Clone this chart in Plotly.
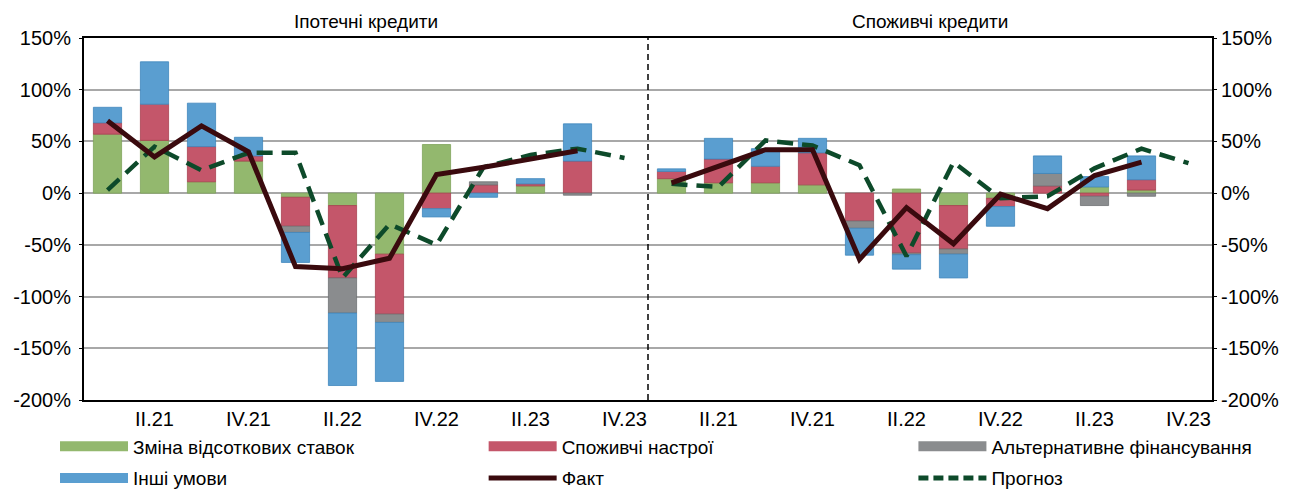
import plotly.graph_objects as go

# ---------------- data ----------------
quarters = ["I.21", "II.21", "III.21", "IV.21", "I.22", "II.22",
            "III.22", "IV.22", "I.23", "II.23", "III.23", "IV.23"]
panels = ["Іпотечні кредити", "Споживчі кредити"]

# Mortgage loans (Іпотечні кредити), %  (None = no bar segment)
mort_rates = [57, 51, 11, 31, -4, -12, -59, 47, None, 7, None, None]
mort_sentiment = [11, 35, 34, 5, -28, -70, -58, -15, 8, 2, 31, None]
mort_altfin = [None, None, None, None, -6, -34, -8, None, 3, None, -2, None]
mort_other = [15, 41, 42, 18, -29, -70, -57, -8, -4, 5, 36, None]
mort_fact = [70, 35, 65, 40, -71, -73, -63, 18, 25, 33, 41, None]
mort_forecast = [3, 45, 22, 39, 39, -82, -30, -50, 25, 37, 43, 34]

# Consumer loans (Споживчі кредити), %
cons_rates = [14, 10, 10, 8, None, 4, -12, -5, None, 6, 3, None]
cons_sentiment = [7, 23, 16, 31, -27, -58, -42, -8, 7, -3, 10, None]
cons_altfin = [None, None, None, None, -7, -1.5, -5, None, 12, -9, -3, None]
cons_other = [2.5, 20, 17, 14, -26, -14, -23, -19, 17, 10, 23, None]
cons_fact = [10, 26, 42, 42, -64, -14, -49, -1, -15, 17, 30, None]
cons_forecast = [9, 6, 51, 46, 27, -61, 30, -5, -3, 24, 43, 29]

tick_labels = ["II.21", "IV.21", "II.22", "IV.22", "II.23", "IV.23"]
y_ticks = [-200, -150, -100, -50, 0, 50, 100, 150]
y_tick_labels = ["-200%", "-150%", "-100%", "-50%", "0%", "50%", "100%", "150%"]

series_names = ["Зміна відсоткових ставок", "Споживчі настрої",
                "Альтернативне фінансування", "Інші умови"]
fact_name = "Факт"
forecast_name = "Прогноз"

# ---------------- styling ----------------
FONT = "Liberation Sans, Arial, sans-serif"
FS = 19
TFS = 20
colors = ["#93B86E", "#C4566A", "#8A8C8E", "#5A9ED0"]
edge = ["#7FA35A", "#A8404F", "#6F7173", "#3F86BC"]
fact_color = "#3A0A0E"
fc_color = "#0D4A2A"

n = len(quarters)
x_m = list(range(n))
x_c = [n + i for i in range(n)]

fig = go.Figure()

mort = [mort_rates, mort_sentiment, mort_altfin, mort_other]
cons = [cons_rates, cons_sentiment, cons_altfin, cons_other]
for k in range(4):
    fig.add_trace(go.Bar(
        x=x_m + x_c, y=mort[k] + cons[k], name=series_names[k],
        marker=dict(color=colors[k], line=dict(color=edge[k], width=0.8)),
        width=0.6, showlegend=False))

for xs, fact, fc in [(x_m, mort_fact, mort_forecast), (x_c, cons_fact, cons_forecast)]:
    fig.add_trace(go.Scatter(x=xs, y=fc, mode="lines", showlegend=False,
                             line=dict(color=fc_color, width=4.5, dash="16px,9px")))
    fig.add_trace(go.Scatter(x=xs, y=fact, mode="lines", showlegend=False,
                             line=dict(color=fact_color, width=5)))

# legend entries (three columns)
entries = [
    (series_names[0], dict(color=colors[0], width=12), "legend", "a"),
    (series_names[3], dict(color=colors[3], width=12), "legend", "b"),
    (series_names[1], dict(color=colors[1], width=12), "legend2", "a"),
    (fact_name, dict(color=fact_color, width=5), "legend2", "b"),
    (series_names[2], dict(color=colors[2], width=12), "legend3", "a"),
    (forecast_name, dict(color=fc_color, width=5, dash="10px,5px"), "legend3", "b"),
]
for name, ln, lg, grp in entries:
    fig.add_trace(go.Scatter(x=[None], y=[None], mode="lines", name=name,
                             line=ln, legend=lg, legendgroup=lg + grp,
                             showlegend=True))

# y2 mirror axis
fig.add_trace(go.Scatter(x=[None], y=[None], yaxis="y2", showlegend=False))

common_leg = dict(orientation="v", bgcolor="rgba(0,0,0,0)",
                  font=dict(family=FONT, size=FS, color="#000"),
                  itemwidth=68, tracegroupgap=4, traceorder="grouped",
                  xanchor="left", yanchor="top", y=-0.076)

yax = dict(range=[-200, 150], tickvals=y_ticks, ticktext=y_tick_labels,
           showline=True, linecolor="#000", linewidth=2,
           ticks="outside", ticklen=3, tickcolor="#000",
           tickfont=dict(size=TFS))

# page body has an 8px margin: the figure is sized/offset to compensate
fig.update_layout(
    width=1286, height=485,
    margin=dict(l=76, r=82, t=30, b=93, autoexpand=False),
    paper_bgcolor="white", plot_bgcolor="white",
    barmode="relative",
    font=dict(family=FONT, size=FS, color="#000"),
    xaxis=dict(range=[-0.5, 2 * n - 0.5],
               tickvals=[1, 3, 5, 7, 9, 11, 13, 15, 17, 19, 21, 23],
               ticktext=tick_labels + tick_labels,
               showgrid=False, zeroline=False, ticks="",
               showline=True, mirror=True, linecolor="#000", linewidth=2,
               tickfont=dict(size=TFS)),
    yaxis=dict(showgrid=True, gridcolor="#A8A8A8", gridwidth=1.5,
               zeroline=True, zerolinecolor="#A8A8A8", zerolinewidth=1.5,
               ticklabelstandoff=4, **yax),
    yaxis2=dict(overlaying="y", side="right", showgrid=False, zeroline=False, **yax),
    legend=dict(x=-0.0257, **common_leg),
    legend2=dict(x=0.3543, **common_leg),
    legend3=dict(x=0.7353, **common_leg),
    shapes=[dict(type="line", xref="x", yref="paper", x0=n - 0.5, x1=n - 0.5,
                 y0=0, y1=1, line=dict(color="#000", width=1.5, dash="6px,4px"))],
    annotations=[
        dict(text=panels[0], x=(n - 1) / 2, xref="x", y=1, yref="paper",
             yanchor="bottom", yshift=4, showarrow=False, font=dict(size=FS)),
        dict(text=panels[1], x=n + (n - 1) / 2, xref="x", y=1, yref="paper",
             yanchor="bottom", yshift=4, showarrow=False, font=dict(size=FS)),
    ],
)

fig.write_html("out.html")
